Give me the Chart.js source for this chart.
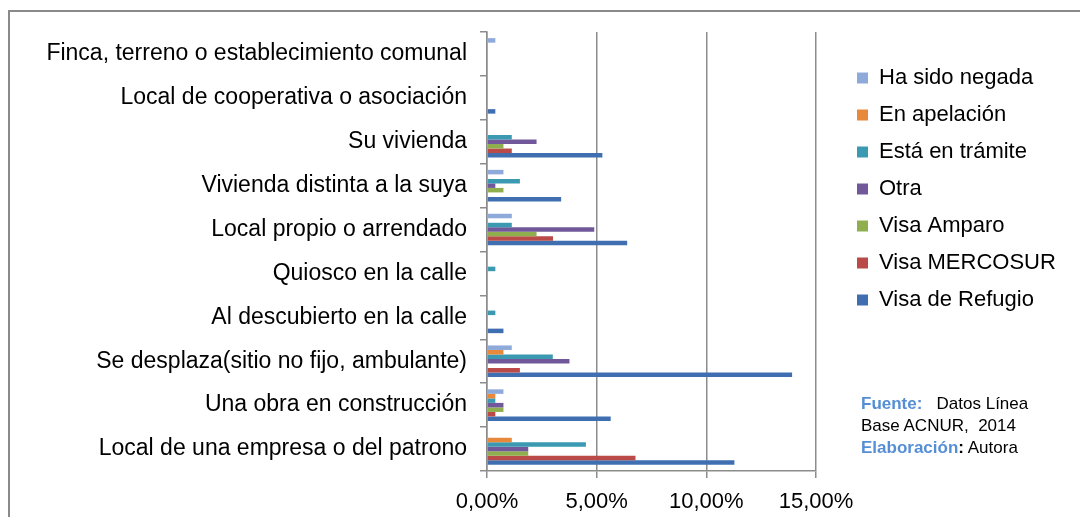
<!DOCTYPE html>
<html>
<head>
<meta charset="utf-8">
<script src="https://cdn.jsdelivr.net/npm/chart.js@4/dist/chart.umd.min.js"></script>
<style>
   body { margin: 0; background: #fff; }
   #wrap { position: relative; width: 1080px; height: 517px; overflow: hidden; }
   #frame { position: absolute; left: 8px; top: 10px; right: -5px; bottom: -5px; border-left: 2px solid #8a8a8a; border-top: 2px solid #8a8a8a; pointer-events: none; }
   #fuente { position: absolute; left: 861px; top: 393px; font: 17px 'Liberation Sans', Arial, sans-serif; line-height: 22px; color: #000; }
   #fuente b { color: #558ed5; }
</style>
</head>
<body>
<div id="wrap">
   <canvas id="chart" width="1080" height="517"></canvas>
   <div id="frame"></div>
   <div id="fuente"><b>Fuente:</b>&nbsp;&nbsp;&nbsp;Datos Línea<br>Base ACNUR,&nbsp; 2014<br><b>Elaboración</b><b style="color:#000">:</b> Autora</div>
</div>
<script>
// values in percent
const categories = ['Finca, terreno o establecimiento comunal', 'Local de cooperativa o asociación', 'Su vivienda', 'Vivienda distinta a la suya', 'Local propio o arrendado', 'Quiosco en la calle', 'Al descubierto en la calle', 'Se desplaza(sitio no fijo, ambulante)', 'Una obra en construcción', 'Local de una empresa o del patrono'];
const haSidoNegada = [0.38, 0, 0, 0.75, 1.13, 0, 0, 1.13, 0.75, 0];
const enApelacion = [0, 0, 0, 0, 0, 0, 0, 0.75, 0.38, 1.13];
const enTramite = [0, 0, 1.13, 1.5, 1.13, 0.38, 0.38, 3.0, 0.38, 4.51];
const otra = [0, 0, 2.26, 0.38, 4.89, 0, 0, 3.76, 0.75, 1.88];
const visaAmparo = [0, 0, 0.75, 0.75, 2.26, 0, 0, 0, 0.75, 1.88];
const visaMercosur = [0, 0, 1.13, 0, 3.01, 0, 0, 1.5, 0.38, 6.77];
const visaRefugio = [0, 0.38, 5.26, 3.38, 6.39, 0, 0.75, 13.91, 5.64, 11.28];
const xTicks = [0, 5, 10, 15];

const font = "'Liberation Sans', Arial, sans-serif";
const gridColor = '#8c8c8c';

const ctx = document.getElementById('chart').getContext('2d');
const chart = new Chart(ctx, {
   type: 'bar',
   data: {
      labels: categories,
      datasets: [
         { label: 'Ha sido negada', data: haSidoNegada, backgroundColor: '#8eaadb' },
         { label: 'En apelación', data: enApelacion, backgroundColor: '#e8883a' },
         { label: 'Está en trámite', data: enTramite, backgroundColor: '#3b9ab2' },
         { label: 'Otra', data: otra, backgroundColor: '#71589a' },
         { label: 'Visa Amparo', data: visaAmparo, backgroundColor: '#8fae4e' },
         { label: 'Visa MERCOSUR', data: visaMercosur, backgroundColor: '#b94a47' },
         { label: 'Visa de Refugio', data: visaRefugio, backgroundColor: '#3f6fb0' }
      ]
   },
   options: {
      indexAxis: 'y',
      responsive: false,
      animation: false,
      categoryPercentage: 0.72,
      barPercentage: 1,
      layout: {
         padding: { top: 32, bottom: 0, left: 0, right: 23 }
      },
      plugins: {
         tooltip: { enabled: false },
         legend: {
            position: 'right',
            align: 'start',
            maxWidth: 215,
            title: { display: true, text: ' ', font: { size: 10 }, padding: { top: 4, bottom: 4 } },
            labels: {
               boxWidth: 11,
               boxHeight: 11,
               padding: 15,
               color: '#000',
               font: { family: font, size: 22 }
            }
         }
      },
      scales: {
         x: {
            min: 0,
            max: 15,
            afterBuildTicks: function(scale) {
               scale.ticks = xTicks.map(v => ({ value: v }));
            },
            afterFit: function(scale) { scale.height = 46; },
            ticks: {
               padding: 11,
               color: '#000',
               font: { family: font, size: 22 },
               callback: v => v.toFixed(2).replace('.', ',') + '%'
            },
            grid: { color: gridColor, lineWidth: 1.5, tickLength: 7 },
            border: { color: gridColor, width: 1.5 }
         },
         y: {
            afterFit: function(scale) { scale.width = 487; },
            ticks: {
               padding: 13,
               color: '#000',
               font: { family: font, size: 23 }
            },
            grid: { drawOnChartArea: false, color: gridColor, lineWidth: 1.5, tickLength: 7 },
            border: { color: gridColor, width: 1.5 }
         },
         gap: {
            type: 'linear',
            position: 'right',
            grid: { display: false },
            ticks: { display: false },
            border: { display: false },
            afterFit: function(scale) { scale.width = 26; }
         }
      }
   }
});
</script>
</body>
</html>
